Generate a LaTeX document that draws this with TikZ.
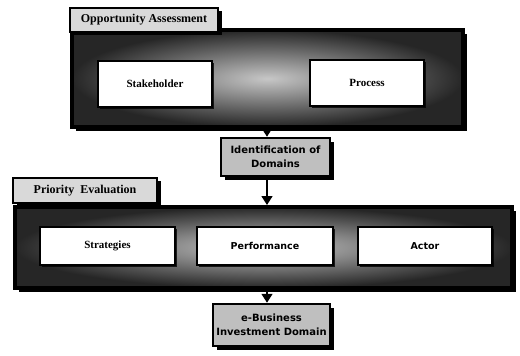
\documentclass[tikz,border=0pt]{standalone}
\usepackage{fontspec}
\setmainfont{Liberation Serif}
\newfontfamily\boxsans{DejaVu Sans}
\usetikzlibrary{shadows,arrows.meta}

\tikzset{
  panel/.style={draw=black, line width=4pt, inner color=black!22, outer color=black!85,
    minimum width=#1, drop shadow={shadow xshift=4pt, shadow yshift=-4pt, fill=black, opacity=1}},
  tab/.style={draw=black, line width=2pt, fill=black!15, inner sep=0pt,
    font=\bfseries\fontsize{12}{13}\selectfont,
    drop shadow={shadow xshift=4pt, shadow yshift=-3pt, fill=black, opacity=1}},
  itembox/.style={draw=black, line width=2.8pt, fill=white, inner sep=0pt,
    minimum height=38pt,
    drop shadow={shadow xshift=2pt, shadow yshift=-2pt, fill=black, opacity=0.8}},
  serifitem/.style={itembox, font=\bfseries\fontsize{11}{12}\selectfont},
  sansitem/.style={itembox, font=\boxsans\bfseries\fontsize{9.5}{11}\selectfont},
  stepnode/.style={draw=black, line width=2.5pt, fill=black!25, inner sep=0pt, align=center,
    font=\boxsans\bfseries\fontsize{10}{14}\selectfont,
    drop shadow={shadow xshift=4pt, shadow yshift=-4pt, fill=black, opacity=1}},
  flow/.style={line width=1.6pt, -{Triangle[width=11pt,length=9pt]}}
}

\begin{document}
\begin{tikzpicture}[x=1pt, y=-1pt]
  \useasboundingbox[fill=white] (0,0) rectangle (520,356);

  % first stage: opportunity assessment
  \node[panel=391pt, minimum height=97pt] (p1) at (267.5,78.5) {};
  \node[tab, minimum width=148pt, minimum height=24pt] (t1) at (144,20) {Opportunity Assessment};
  \node[serifitem, minimum width=114pt, minimum height=46pt] (stake) at (155,84) {Stakeholder};
  \node[serifitem, minimum width=114pt, minimum height=46pt] (proc) at (367,83) {Process};

  % intermediate result
  \node[stepnode, minimum width=109pt, minimum height=38pt] (ident) at (275.5,157)
    {Identification of\\Domains};

  % second stage: priority evaluation
  \node[panel=497pt, minimum height=81pt] (p2) at (263.5,247.5) {};
  \node[tab, minimum width=144pt, minimum height=25pt] (t2) at (85,190.5) {Priority\ \ Evaluation};
  \node[serifitem, minimum width=135pt] (strat) at (107.5,246) {Strategies};
  \node[sansitem, minimum width=136pt] (perf) at (265,246) {Performance};
  \node[sansitem, minimum width=134pt] (actor) at (425,246) {Actor};

  % final result
  \node[stepnode, minimum width=117pt, minimum height=42pt] (ebiz) at (271.5,325)
    {e-Business\\Investment Domain};

  % flow between stages
  \coordinate (axis) at (267,0);
  \draw[flow] (p1.south -| axis) -- (ident.north -| axis);
  \draw[flow] (ident.south -| axis) -- (p2.north -| axis);
  \draw[flow] (p2.south -| axis) -- (ebiz.north -| axis);
\end{tikzpicture}
\end{document}
